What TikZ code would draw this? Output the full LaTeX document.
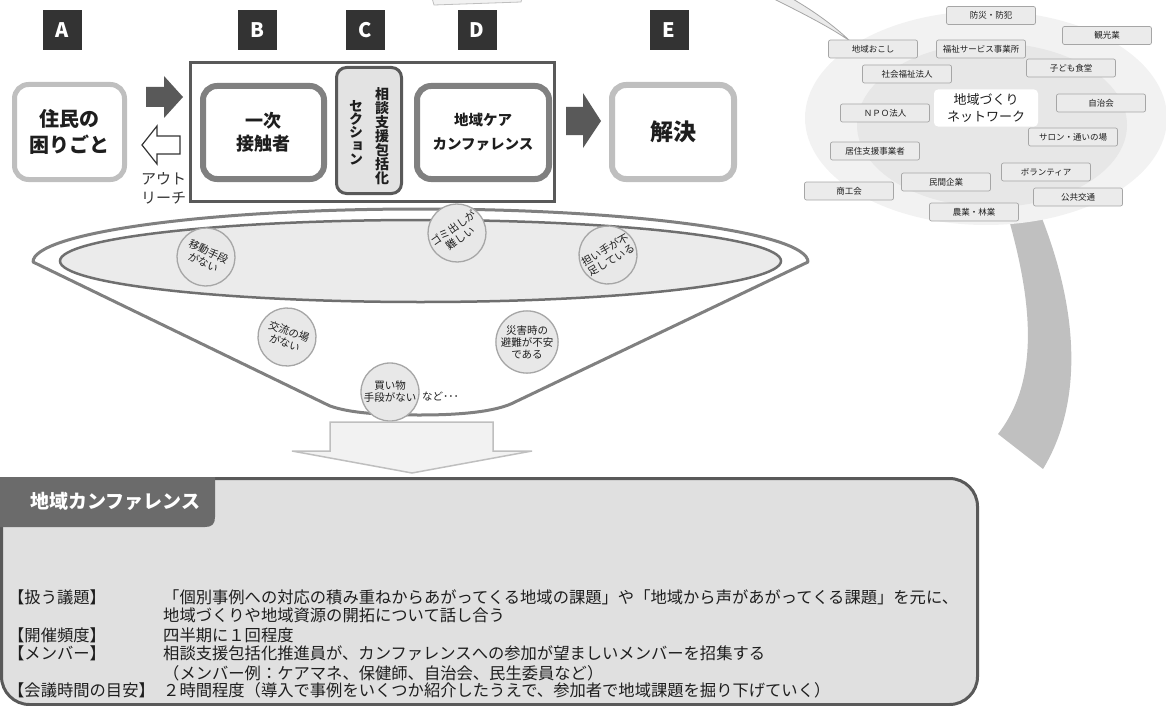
\documentclass[tikz,border=0pt]{standalone}
\usepackage{fontspec}
\setmainfont{Noto Sans CJK JP}
\newfontfamily\jpv[RawFeature=+vert]{Noto Sans CJK JP}
\definecolor{cdark}{HTML}{333333}
\definecolor{carrow}{HTML}{595959}
\definecolor{cmid}{HTML}{808080}
\definecolor{cfun}{HTML}{6F6F6F}
\definecolor{clight}{HTML}{BFBFBF}
\definecolor{cfillC}{HTML}{E3E3E3}
\definecolor{cnetbg}{HTML}{F2F2F2}
\definecolor{cnetin}{HTML}{E7E7E7}
\definecolor{cnetbox}{HTML}{EBEBEB}
\definecolor{cnetline}{HTML}{A6A6A6}
\definecolor{ctext}{HTML}{1E1E1E}
\definecolor{cbubble}{HTML}{E8E8E8}
\definecolor{cbottom}{HTML}{E0E0E0}
\definecolor{ctab}{HTML}{6B6B6B}
\definecolor{cband}{HTML}{C0C0C0}
\newcommand{\myfs}[2]{\fontsize{#1}{#2}\selectfont}
\tikzset{
  letterbox/.style={fill=cdark, minimum width=39pt, minimum height=40pt, inner sep=0pt, text=white, font=\bfseries\myfs{20}{20}},
  flowbox/.style={rounded corners=14pt, fill=white, inner sep=0pt, align=center, text=ctext},
  netbox/.style={draw=cnetline, line width=0.7pt, fill=cnetbox, rounded corners=2pt, minimum width=89pt, minimum height=18pt, inner sep=0pt, text=ctext, font=\myfs{8.5}{9}},
  bubble/.style={circle, draw=cnetline, line width=1.3pt, fill=cbubble, minimum size=58pt, inner sep=0pt, align=center, text=ctext, font=\myfs{10.5}{12}},
  rowtext/.style={anchor=west, inner sep=0pt, text=ctext, font=\myfs{16.3}{18}},
}
\begin{document}
\begin{tikzpicture}[x=1pt,y=-1pt]
\useasboundingbox (0,0) rectangle (1166,706);

% ---------- top fragments ----------
\draw[fill=cnetbg, draw=clight, line width=0.8pt] (432,-2) -- (522,-2) -- (521,2) -- (434,5) -- cycle;
\draw[fill=cnetbox, draw=cnetline, line width=0.8pt] (772,-2) .. controls (800,12) and (828,26) .. (850,41) .. controls (832,24) and (812,10) .. (791,-2) -- cycle;

% ---------- network (right) ----------
\fill[cband] (1000,190) .. controls (1035,300) and (1040,380) .. (998,434) -- (1043,469) .. controls (1085,400) and (1080,300) .. (1030,190) -- cycle;
\fill[cnetbg] (986,118) ellipse[x radius=181, y radius=107];
\fill[cnetin] (992,125) ellipse[x radius=135, y radius=82];
\node[fill=white, rounded corners=4pt, minimum width=104pt, minimum height=37pt, inner sep=0pt, align=center, text=ctext, font=\myfs{13}{17}] (net) at (986,108) {地域づくり\\ネットワーク};
\node[netbox] (n1) at (991,15.5) {防災・防犯};
\node[netbox] (n2) at (1107,35.5) {観光業};
\node[netbox] (n3) at (873,49) {地域おこし};
\node[netbox] (n4) at (981,49) {福祉サービス事業所};
\node[netbox] (n5) at (1071,68) {子ども食堂};
\node[netbox] (n6) at (907,74) {社会福祉法人};
\node[netbox] (n7) at (1101,103) {自治会};
\node[netbox] (n8) at (885,113) {ＮＰＯ法人};
\node[netbox] (n9) at (1073,137) {サロン・通いの場};
\node[netbox] (n10) at (875,151) {居住支援事業者};
\node[netbox] (n11) at (1046,172) {ボランティア};
\node[netbox] (n12) at (946,182) {民間企業};
\node[netbox] (n13) at (849,191) {商工会};
\node[netbox] (n14) at (1078,197) {公共交通};
\node[netbox] (n15) at (974,212) {農業・林業};

% ---------- funnel ----------
\draw[fill=white, draw=cmid, line width=3pt, line join=round]
  (33,262) .. controls (33,233) and (206,209) .. (420,209)
  .. controls (634,209) and (808,233) .. (808,262)
  -- (515,402) .. controls (500,410) and (470,415) .. (420,415)
  .. controls (380,415) and (350,413) .. (330,406) -- cycle;
\draw[fill=cnetbox, draw=cfun, line width=2.5pt] (420.5,261) ellipse[x radius=360.5, y radius=41];

\node[bubble, rotate=-25] (b1) at (206,257) {移動手段\\がない};
\node[bubble, rotate=-20] (b2) at (287,337) {交流の場\\がない};
\node[bubble] (b3) at (390,392) {買い物\\手段がない};
\node[bubble, rotate=35] (b4) at (457,233) {ゴミ出しが\\難しい};
\node[bubble, rotate=30] (b5) at (608,255) {担い手が不\\足している};
\node[bubble] (b6) at (527,342) {災害時の\\避難が不安\\である};
\node[anchor=west, inner sep=0pt, text=ctext, font=\myfs{10.5}{12}] (etc) at (422,396) {など･･･};

% ---------- down arrow ----------
\draw[fill=cnetbg, draw=clight, line width=1.5pt, line join=miter]
  (330,422) -- (493,422) -- (493,451) -- (532,451) -- (412,473) -- (292,451) -- (330,451) -- cycle;

% ---------- bottom box ----------
\draw[fill=cbottom, draw=carrow, line width=3pt, rounded corners=28pt] (1.5,478.5) rectangle (977.5,704.5);
\fill[ctab] (0,477) -- (215,477) -- (215,517) .. controls (215,524) and (212,527) .. (205,527) -- (0,527) -- cycle;
\node[anchor=west, inner sep=0pt, text=white, font=\bfseries\myfs{19}{20}] (title) at (30,501) {地域カンファレンス};

\node[rowtext] (l1) at (8,597) {【扱う議題】};
\node[rowtext] (v1) at (163,597) {「個別事例への対応の積み重ねからあがってくる地域の課題」や「地域から声があがってくる課題」を元に、};
\node[rowtext] (v1b) at (163,615) {地域づくりや地域資源の開拓について話し合う};
\node[rowtext] (l2) at (8,635) {【開催頻度】};
\node[rowtext] (v2) at (163,635) {四半期に１回程度};
\node[rowtext] (l3) at (8,653) {【メンバー】};
\node[rowtext] (v3) at (163,653) {相談支援包括化推進員が、カンファレンスへの参加が望ましいメンバーを招集する};
\node[rowtext] (v3b) at (163,673) {（メンバー例：ケアマネ、保健師、自治会、民生委員など）};
\node[rowtext] (l4) at (8,690) {【会議時間の目安】};
\node[rowtext] (v4) at (163,690) {２時間程度（導入で事例をいくつか紹介したうえで、参加者で地域課題を掘り下げていく）};

% ---------- top row ----------
\node[letterbox] (la) at (62,30) {A};
\node[letterbox] (lb) at (257,30) {B};
\node[letterbox] (lc) at (365,30) {C};
\node[letterbox] (ld) at (477,30) {D};
\node[letterbox] (le) at (669,30) {E};

\node[draw=carrow, line width=3pt, fill=white, minimum width=364pt, minimum height=139pt, inner sep=0pt] (cont) at (372.5,132) {};

\node[flowbox, draw=clight, line width=5pt, minimum width=110pt, minimum height=95pt, font=\bfseries\myfs{20}{26}] (boxa) at (69.5,132) {住民の\\困りごと};
\node[flowbox, draw=cmid, line width=6pt, minimum width=121pt, minimum height=93pt, font=\bfseries\myfs{18}{23}] (boxb) at (263.5,132.5) {一次\\接触者};
\node[flowbox, draw=carrow, fill=cfillC, line width=3pt, rounded corners=10pt, minimum width=65pt, minimum height=126pt] (boxc) at (369,130.5) {};
\node[inner sep=0pt, align=center, text=ctext, font=\jpv\bfseries\myfs{14}{14}] (c1) at (382,136.5) {相\\談\\支\\援\\包\\括\\化};
\node[inner sep=0pt, align=center, text=ctext, font=\jpv\bfseries\myfs{14}{13.3}] (c2) at (356,132.5) {セ\\ク\\シ\\ョ\\ン};
\node[flowbox, draw=cmid, line width=6pt, minimum width=132pt, minimum height=93pt, font=\bfseries\myfs{14.5}{24}] (boxd) at (483,132.5) {地域ケア\\カンファレンス};
\node[flowbox, draw=clight, line width=6pt, minimum width=122pt, minimum height=94pt, font=\bfseries\myfs{23}{26}] (boxe) at (673,132) {解決};

% arrows
\fill[carrow] (146,87) -- (164,87) -- (164,76) -- (183,97) -- (164,118) -- (164,107) -- (146,107) -- cycle;
\draw[fill=white, draw=cdark, line width=1.2pt, line join=miter] (142,145) -- (157,126) -- (157,136) -- (180,136) -- (180,154) -- (157,154) -- (157,164) -- cycle;
\fill[carrow] (566,107) -- (583,107) -- (583,93) -- (601,121) -- (583,148) -- (583,135) -- (566,135) -- cycle;

\node[anchor=west, inner sep=0pt, align=left, text=cdark, font=\myfs{15}{19}] (out) at (141,188) {アウト\\リーチ};
\end{tikzpicture}
\end{document}
